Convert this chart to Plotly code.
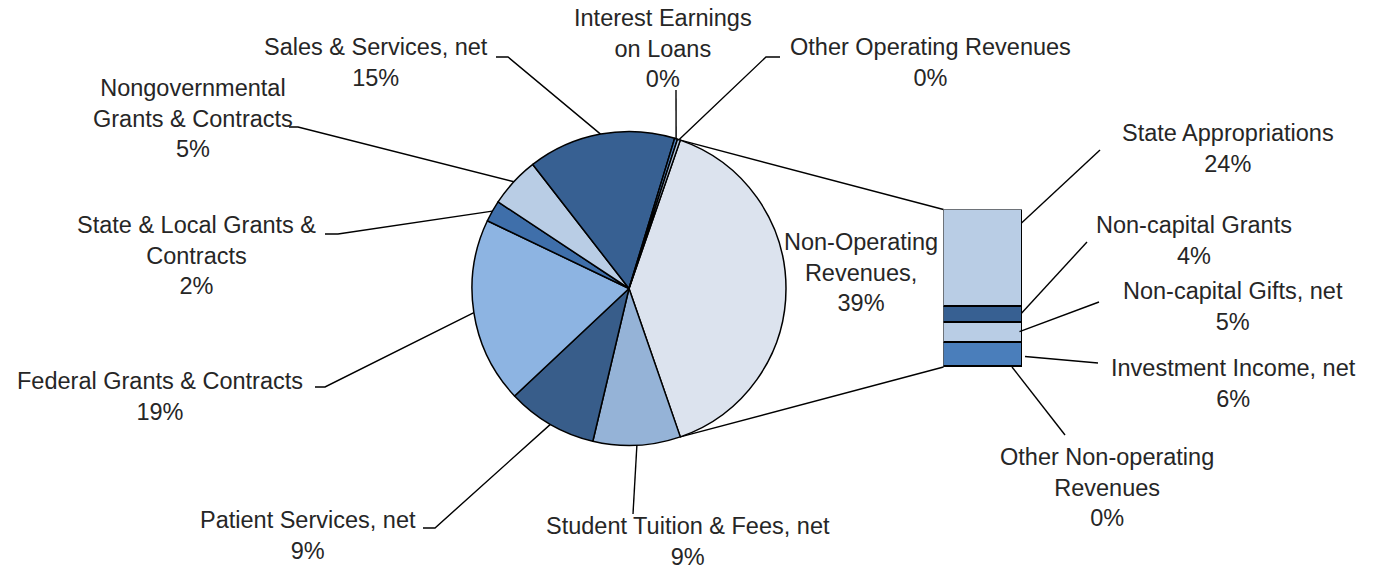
import math
import plotly.graph_objects as go

W, H = 1375, 569

# ---------------- data ----------------
op_labels = ["Student Tuition & Fees, net", "Patient Services, net",
             "Federal Grants & Contracts", "State & Local Grants & Contracts",
             "Nongovernmental Grants & Contracts", "Sales & Services, net",
             "Interest Earnings on Loans", "Other Operating Revenues"]
op_values = [9.0, 9.3, 19.1, 2.2, 5.2, 15.2, 0.3, 0.3]

nonop_label = "Non-Operating Revenues"
bar_labels = ["State Appropriations", "Non-capital Grants", "Non-capital Gifts, net",
              "Investment Income, net", "Other Non-operating Revenues"]
bar_values = [24.3, 4.0, 5.0, 6.0, 0.1]

pie_labels = [nonop_label] + op_labels
pie_values = [sum(bar_values)] + op_values
TOTAL = sum(pie_values)

# ---------------- styles ----------------
pie_colors = ["#DCE3EE", "#95B3D7", "#385D8A", "#8DB4E2", "#3F6FAA",
              "#B9CDE5", "#376092", "#4F81BD", "#B9CDE5"]
bar_colors = ["#B9CDE5", "#376092", "#B9CDE5", "#4A7EBB", "#1F497D"]

FONT = dict(family="Liberation Sans, Arial, sans-serif", size=23.5, color="#262626")
LINE = dict(color="black", width=1.4)

# pie geometry (pixels)
PCX, PCY, PR = 629.0, 288.5, 157.0
# bar geometry (pixels)
BX0, BX1, BY0, BY1 = 943.5, 1022.0, 209.5, 367.0

# display text (line breaks) and label placement: center (px), leader path points on label side
display = {
    "Student Tuition & Fees, net": "Student Tuition & Fees, net",
    "Patient Services, net": "Patient Services, net",
    "Federal Grants & Contracts": "Federal Grants & Contracts",
    "State & Local Grants & Contracts": "State & Local Grants &<br>Contracts",
    "Nongovernmental Grants & Contracts": "Nongovernmental<br>Grants & Contracts",
    "Sales & Services, net": "Sales & Services, net",
    "Interest Earnings on Loans": "Interest Earnings<br>on Loans",
    "Other Operating Revenues": "Other Operating Revenues",
    "Non-Operating Revenues": "Non-Operating<br>Revenues,",
    "State Appropriations": "State Appropriations",
    "Non-capital Grants": "Non-capital Grants",
    "Non-capital Gifts, net": "Non-capital Gifts, net",
    "Investment Income, net": "Investment Income, net",
    "Other Non-operating Revenues": "Other Non-operating<br>Revenues",
}
label_pos = {
    "Student Tuition & Fees, net": (688, 541, [(633, 514)]),
    "Patient Services, net": (308, 535, [(423, 528), (435, 528)]),
    "Federal Grants & Contracts": (160, 396, [(315, 387), (325, 387)]),
    "State & Local Grants & Contracts": (196, 256, [(325, 234), (338, 234)]),
    "Nongovernmental Grants & Contracts": (193, 118, [(289, 127), (298, 127)]),
    "Sales & Services, net": (376, 63, [(496, 57), (508, 57)]),
    "Interest Earnings on Loans": (663, 48, [(676, 90)]),
    "Other Operating Revenues": (930, 63, [(780, 57), (766, 57)]),
    "Non-Operating Revenues": (861, 272, None),
    "State Appropriations": (1228, 148, [(1100, 150)]),
    "Non-capital Grants": (1194, 240, [(1087, 242)]),
    "Non-capital Gifts, net": (1233, 306, [(1099, 302)]),
    "Investment Income, net": (1233, 383, [(1098, 363)]),
    "Other Non-operating Revenues": (1107, 487, [(1065, 435)]),
}
# where bar leaders touch the bar: (x px, fraction of segment height from bottom)
bar_anchor = {
    "State Appropriations": (1021.5, 0.86),
    "Non-capital Grants": (1021.5, 0.59),
    "Non-capital Gifts, net": (1019.5, 0.55),
    "Investment Income, net": (1025.0, 0.42),
    "Other Non-operating Revenues": (1012.0, 0.0),
}

fig = go.Figure()

# ---------------- pie ----------------
nonop_deg = pie_values[0] / TOTAL * 360.0
rotation = 90.0 - nonop_deg / 2.0
fig.add_trace(go.Pie(
    labels=pie_labels, values=pie_values, sort=False, direction="clockwise",
    rotation=rotation, marker=dict(colors=pie_colors, line=dict(color="black", width=1.5)),
    textinfo="none", textposition="none", showlegend=False, hoverinfo="label+percent",
    domain=dict(x=[(PCX - PR) / W, (PCX + PR) / W],
                y=[(H - PCY - PR) / H, (H - PCY + PR) / H]),
))

# ---------------- stacked bar ----------------
bar_total = sum(bar_values)
for lab, val, col in reversed(list(zip(bar_labels, bar_values, bar_colors))):
    fig.add_trace(go.Bar(
        x=[0], y=[val], width=[1], name=lab, marker=dict(color=col, line=dict(color="black", width=1.5)),
        showlegend=False, xaxis="x", yaxis="y", hoverinfo="name+y",
    ))


def pie_point(angle_deg):
    a = math.radians(angle_deg)
    return (PCX + PR * math.sin(a), PCY - PR * math.cos(a))


def bar_y_px(value):
    return BY1 - value / bar_total * (BY1 - BY0)


line_x, line_y = [], []


def add_path(pts):
    for p in pts:
        line_x.append(p[0]); line_y.append(p[1])
    line_x.append(None); line_y.append(None)


# connectors between pie and bar
add_path([pie_point(rotation), (BX0, BY0)])
add_path([pie_point(rotation + nonop_deg), (BX0, BY1)])

annotations = []
# pie labels
cum = 0.0
for lab, val in zip(pie_labels, pie_values):
    mid = rotation + (cum + val / 2.0) / TOTAL * 360.0
    cum += val
    cx, cy, path = label_pos[lab]
    pct = round(val / TOTAL * 100)
    annotations.append(dict(x=cx / W, y=1 - cy / H, xref="paper", yref="paper",
                            text=f"{display[lab]}<br>{pct}%", showarrow=False,
                            xanchor="center", yanchor="middle", font=FONT, align="center"))
    if path:
        add_path(path + [pie_point(mid)])

# bar labels
base = 0.0
segs = {}
for lab, val in reversed(list(zip(bar_labels, bar_values))):
    segs[lab] = (base, val)
    base += val
for lab, val in zip(bar_labels, bar_values):
    cx, cy, path = label_pos[lab]
    pct = round(val / TOTAL * 100)
    annotations.append(dict(x=cx / W, y=1 - cy / H, xref="paper", yref="paper",
                            text=f"{display[lab]}<br>{pct}%", showarrow=False,
                            xanchor="center", yanchor="middle", font=FONT, align="center"))
    b, v = segs[lab]
    ax, frac = bar_anchor[lab]
    add_path(path + [(ax, bar_y_px(b + frac * v))])

fig.add_trace(go.Scatter(x=line_x, y=line_y, mode="lines", line=LINE, xaxis="x2", yaxis="y2",
                         showlegend=False, hoverinfo="skip"))

fig.update_layout(
    width=W, height=H, margin=dict(l=0, r=0, t=0, b=0),
    paper_bgcolor="white", plot_bgcolor="rgba(0,0,0,0)",
    barmode="stack", bargap=0,
    xaxis=dict(domain=[BX0 / W, BX1 / W], range=[-0.5, 0.5], visible=False, anchor="y", fixedrange=True),
    yaxis=dict(domain=[(H - BY1) / H, (H - BY0) / H], range=[0, bar_total], visible=False,
               anchor="x", fixedrange=True),
    xaxis2=dict(domain=[0, 1], range=[0, W], visible=False, anchor="y2", fixedrange=True),
    yaxis2=dict(domain=[0, 1], range=[H, 0], visible=False, anchor="x2", fixedrange=True),
    annotations=annotations,
    showlegend=False,
)

fig.write_html("out.html", config={"displayModeBar": False},
               post_script="document.body.style.margin='0';document.body.style.overflow='hidden';")
